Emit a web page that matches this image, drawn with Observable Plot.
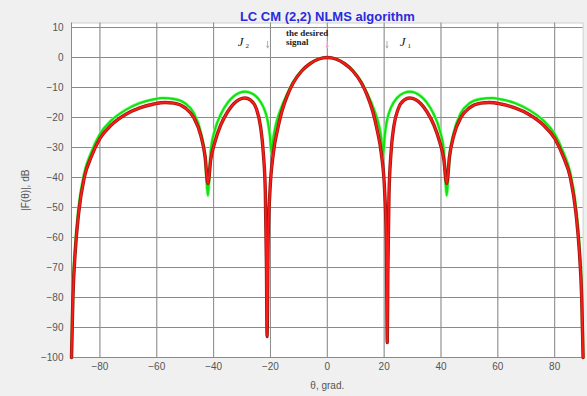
<!DOCTYPE html>
<html><head><meta charset="utf-8">
<script src="https://cdn.jsdelivr.net/npm/d3@7"></script>
<script src="https://cdn.jsdelivr.net/npm/@observablehq/plot@0.6"></script>
<style>
html,body{margin:0;padding:0;background:#f0f0f0;}
#chart svg{display:block;}
</style>
</head><body><div id="chart"></div>
<script>
const title = "LC CM (2,2) NLMS algorithm";
const xLabel = "θ, grad.";
const yLabel = "|F(θ)|, dB";
const xTicks = [-80, -60, -40, -20, 0, 20, 40, 60, 80];
const yTicks = [-100, -90, -80, -70, -60, -50, -40, -30, -20, -10, 0, 10];

const greenTheta = [-90,-89.5,-88.7,-87.5,-85.5,-83,-80,-76,-71,-66,-61,-58,-54,-50,-47,-44.5,-43,-42,-41,-39.5,-37.5,-35,-33,-31,-29,-27,-24.5,-22.5,-21,-20.2,-19.6,-19,-18,-16.5,-14,-12,-9,-6,-3,0,3,6,9,12,14,16.5,18,19,19.6,20.2,21,22.5,24.5,27,29,31,33,35,37.5,39.5,41,42,43,44.5,47,50,54,58,61,66,71,76,80,83,85.5,87.5,88.7,89.5,90];
const greenDb = [-100,-78,-63,-50,-38.5,-31.5,-25.5,-21,-17.5,-15.2,-13.9,-13.5,-13.8,-15.3,-18.5,-25,-33,-46,-31,-24,-19,-15,-13,-11.8,-11.4,-11.8,-13.5,-16.5,-21,-26,-32,-27,-22,-17.5,-12,-8.2,-4.4,-2,-0.5,0,-0.5,-2,-4.4,-8.2,-12,-17.5,-22,-27,-33,-26,-21,-16.5,-13.5,-11.8,-11.4,-11.8,-13,-15,-19,-24,-31,-46,-33,-25,-18.5,-15.3,-13.8,-13.5,-13.9,-15.2,-17.5,-21,-25.5,-31.5,-38.5,-50,-63,-78,-100];

const redTheta = [-90,-89.5,-88.7,-87.5,-85.5,-83,-80,-76,-71,-66,-61,-57,-54,-50,-47,-44.5,-43,-42,-41,-39.5,-37.5,-35,-33,-31,-29,-27,-25,-23.5,-22.5,-21.8,-21.4,-21.2,-20.8,-20.2,-19,-17.5,-16,-14,-12,-9,-6,-3,0,3,6,9,12,14,16,17.5,19,20.2,20.8,21.1,21.3,21.7,22.4,23.4,25,27,29,31,33,35,37.5,39.5,41,42,43,44.5,47,50,54,57,61,66,71,76,80,83,85.5,87.5,88.7,89.5,90];
const redDb = [-100,-80,-65,-52,-40,-33,-27,-22.5,-19,-16.8,-15.5,-15,-15.2,-16.8,-20,-26,-33,-42,-34,-28,-22.5,-18,-15.5,-14,-13.5,-14.2,-17,-23,-32,-45,-70,-93,-60,-45,-32,-24,-18,-12.5,-8.5,-4.5,-2,-0.5,0,-0.5,-2,-4.5,-8.5,-12.5,-18,-24,-32,-45,-62,-95,-72,-46,-32,-23,-17,-14.2,-13.5,-14,-15.5,-18,-22.5,-28,-34,-42,-33,-26,-20,-16.8,-15.2,-15,-15.5,-16.8,-19,-22.5,-27,-33,-40,-52,-65,-80,-100];

const jammerAngles = [-21, 21];
const desiredAngle = [0];

const green = greenTheta.map((t, i) => ({theta: t, db: greenDb[i]}));
const red = redTheta.map((t, i) => ({theta: t, db: redDb[i]}));

const tickFont = {fontFamily: "Liberation Sans, Arial, sans-serif", fontSize: 10, fill: "#555"};
const serif = "Liberation Serif, 'Times New Roman', serif";

const chart = Plot.plot({
  width: 587,
  height: 396,
  marginLeft: 71,
  marginRight: 4.4,
  marginTop: 22.5,
  marginBottom: 39,
  style: {background: "#f0f0f0", fontFamily: "Liberation Sans, Arial, sans-serif"},
  x: {domain: [-90, 90]},
  y: {domain: [-100, 11.5]},
  marks: [
    Plot.frame({fill: "white", stroke: "#d0d0d0"}),
    Plot.gridX(xTicks, {stroke: "#e3e3e3", strokeOpacity: 1}),
    Plot.gridY(yTicks, {stroke: "#e3e3e3", strokeOpacity: 1}),
    Plot.ruleX([-90], {stroke: "#8a8a8a"}),
    Plot.ruleY([-100], {stroke: "#8a8a8a"}),
    Plot.axisX(xTicks, {tickSize: 0, tickPadding: 5, ...tickFont, label: xLabel, labelAnchor: "center", labelArrow: "none", labelOffset: 31}),
    Plot.axisY(yTicks, {tickSize: 0, tickPadding: 8, ...tickFont, label: yLabel, labelAnchor: "center", labelArrow: "none", labelOffset: 50}),
    Plot.tickX(xTicks, {x: d => d, y1: -100, y2: -99, stroke: "#8a8a8a"}),
    Plot.tickY(yTicks, {y: d => d, x1: -90, x2: -89, stroke: "#8a8a8a"}),
    Plot.line(green, {x: "theta", y: "db", curve: "monotone-x", stroke: "#7dff7d", strokeWidth: 3.2}),
    Plot.line(green, {x: "theta", y: "db", curve: "monotone-x", stroke: "#12e012", strokeWidth: 2}),
    Plot.line(red, {x: "theta", y: "db", curve: "monotone-x", stroke: "#9a1a10", strokeWidth: 3.4}),
    Plot.line(red, {x: "theta", y: "db", curve: "monotone-x", stroke: "#ff1a1a", strokeWidth: 1.8}),
    Plot.arrow(jammerAngles, {x1: d => d, x2: d => d, y1: 5.4, y2: 3.2, stroke: "#b0b0b0", strokeWidth: 1, headLength: 3}),
    Plot.arrow(desiredAngle, {x1: d => d, x2: d => d, y1: 5.4, y2: 3.2, stroke: "#ff9ad0", strokeWidth: 1, headLength: 3}),
    Plot.text(["J"], {x: -30.5, y: 5.2, text: d => d, fontFamily: serif, fontStyle: "italic", fontSize: 13, fill: "#222"}),
    Plot.text(["2"], {x: -28.2, y: 3.8, text: d => d, fontFamily: serif, fontSize: 7, fill: "#222"}),
    Plot.text(["J"], {x: 26.5, y: 5.2, text: d => d, fontFamily: serif, fontStyle: "italic", fontSize: 13, fill: "#222"}),
    Plot.text(["1"], {x: 28.8, y: 3.8, text: d => d, fontFamily: serif, fontSize: 7, fill: "#222"}),
    Plot.text(["the desired"], {x: -14.5, y: 8.2, text: d => d, textAnchor: "start", fontFamily: serif, fontWeight: "bold", fontSize: 9, fill: "#222"}),
    Plot.text(["signal"], {x: -14.5, y: 5.0, text: d => d, textAnchor: "start", fontFamily: serif, fontWeight: "bold", fontSize: 9, fill: "#222"}),
    Plot.text([title], {frameAnchor: "top", dy: -11, text: d => d, fontFamily: "Liberation Sans, Arial, sans-serif", fontWeight: "bold", fontSize: 13, fill: "#2b2bdc"})
  ]
});
document.getElementById("chart").appendChild(chart);
</script>
</body></html>
